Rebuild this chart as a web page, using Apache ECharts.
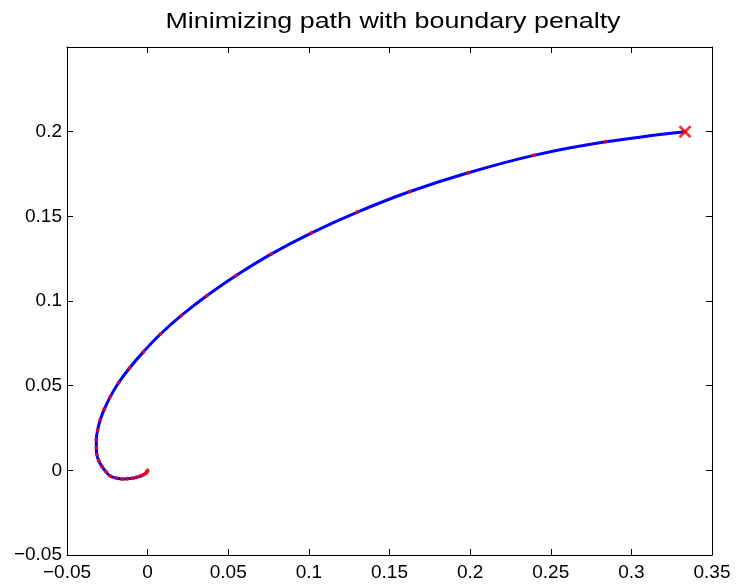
<!DOCTYPE html>
<html>
<head>
<meta charset="utf-8">
<script src="https://cdn.jsdelivr.net/npm/echarts@6/dist/echarts.min.js"></script>
<style>
  html, body { margin: 0; padding: 0; background: #fff; }
  #chart { width: 736px; height: 588px; }
</style>
</head>
<body>
<div id="chart"></div>
<script>
// iterates of the path, from the start point (x) down to the origin
const pathX = [0.3333, 0.2841, 0.2395, 0.1988, 0.1623, 0.1301, 0.1014, 0.0766, 0.0549, 0.0367,
  0.0210, 0.0080, -0.0025, -0.0112, -0.0180, -0.0232, -0.0269, -0.0294, -0.0310, -0.0318,
  -0.0318, -0.0315, -0.0303, -0.0283, -0.0258, -0.0232, -0.0196, -0.0159, -0.0126, -0.0095,
  -0.0068, -0.0044, -0.0025, -0.0011, -0.0004, 0.0000];
const pathY = [0.2000, 0.1940, 0.1860, 0.1757, 0.1645, 0.1525, 0.1401, 0.1277, 0.1151, 0.1031,
  0.0915, 0.0805, 0.0701, 0.0604, 0.0517, 0.0434, 0.0360, 0.0297, 0.0238, 0.0183,
  0.0134, 0.0094, 0.0056, 0.0022, -0.0009, -0.0034, -0.0045, -0.0051, -0.0050, -0.0047,
  -0.0041, -0.0034, -0.0025, -0.0017, -0.0008, 0.0000];
const startX = [0.3333];
const startY = [0.2];
const xTicks = [-0.05, 0, 0.05, 0.1, 0.15, 0.2, 0.25, 0.3, 0.35];
const yTicks = [-0.05, 0, 0.05, 0.1, 0.15, 0.2];

const chart = echarts.init(document.getElementById("chart"));
const pts = pathX.map((x, i) => [x, pathY[i]]);
const fmt = (v) => String(Math.round(v * 100) / 100).replace("-", "\u2212");
const font = "Liberation Sans, Arial, sans-serif";
const xMark = "path://M3,0 L10,7 L17,0 L20,3 L13,10 L20,17 L17,20 L10,13 L3,20 L0,17 L7,10 L0,3 Z";

const baseAxis = {
  type: "value",
  interval: 0.05,
  axisLine: { show: true, onZero: false, lineStyle: { color: "#000", width: 1 } },
  axisTick: { show: true, inside: true, length: 6, lineStyle: { color: "#000" } },
  splitLine: { show: false },
};

chart.setOption({
  animation: false,
  // title drawn as graphic text so it can be stretched like the reference font
  graphic: [
    {
      type: "text",
      x: 393,
      y: 11,
      scaleX: 1.22,
      style: {
        text: "Minimizing path with boundary penalty",
        font: "22px " + font,
        fill: "#000",
        textAlign: "center",
        textVerticalAlign: "top",
      },
    },
  ],
  grid: { left: 67, right: 24, top: 47, bottom: 33 },
  xAxis: [
    Object.assign({}, baseAxis, {
      min: xTicks[0], max: xTicks[xTicks.length - 1], position: "bottom",
      axisLabel: { fontFamily: font, fontSize: 19, color: "#000", margin: 8, formatter: fmt },
    }),
    Object.assign({}, baseAxis, {
      min: xTicks[0], max: xTicks[xTicks.length - 1], position: "top",
      axisLabel: { show: false },
    }),
  ],
  yAxis: [
    Object.assign({}, baseAxis, {
      min: yTicks[0], max: 0.25, position: "left",
      axisLabel: { fontFamily: font, fontSize: 19, color: "#000", margin: 5, showMaxLabel: false, formatter: fmt },
    }),
    Object.assign({}, baseAxis, {
      min: yTicks[0], max: 0.25, position: "right",
      axisLabel: { show: false },
    }),
  ],
  series: [
    {
      type: "line",
      data: pts,
      smooth: 0.4,
      showSymbol: false,
      lineStyle: { color: "#0000ff", width: 3 },
      z: 2,
    },
    {
      type: "scatter",
      data: pts,
      symbol: "circle",
      symbolSize: 4,
      itemStyle: { color: "#ff0000" },
      z: 3,
    },
    {
      type: "scatter",
      data: startX.map((x, i) => [x, startY[i]]),
      symbol: xMark,
      symbolSize: 13,
      itemStyle: { color: "#ff0000" },
      z: 4,
    },
  ],
});
</script>
</body>
</html>
